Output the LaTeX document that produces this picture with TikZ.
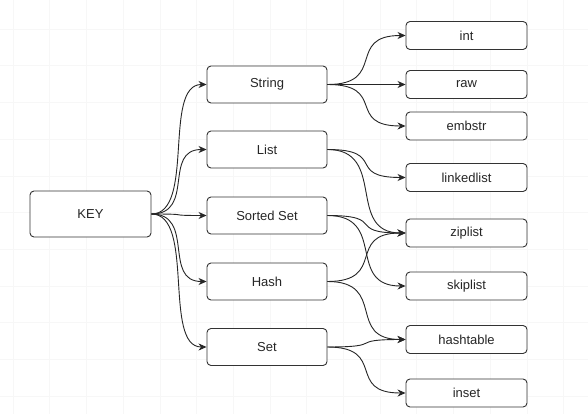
\documentclass[tikz,border=0pt]{standalone}
\usepackage{fontspec}
\setmainfont{Liberation Sans}
\usetikzlibrary{arrows.meta}
\begin{document}
\begin{tikzpicture}[x=1pt,y=-1pt,
  box/.style={draw=black!80, line width=0.9pt, rounded corners=4pt, fill=white,
    inner sep=0pt, text=black!85, font=\fontsize{13}{15}\selectfont},
  keybox/.style={box, minimum width=121pt, minimum height=46pt},
  midbox/.style={box, minimum width=120pt, minimum height=37pt},
  leafbox/.style={box, minimum width=121pt, minimum height=28pt},
  gridline/.style={draw=black!3, line width=0.6pt},
  link/.style={draw=black!85, line width=0.9pt,
    -{Stealth[length=8pt,width=7pt,inset=2.5pt]}},
  linkA/.style={link, out=0, in=180, out distance=44pt, in distance=44pt},
  linkB/.style={link, out=0, in=180, out distance=60pt, in distance=60pt}]
\useasboundingbox (0,0) rectangle (588,414);
\fill[white] (0,0) rectangle (588,414);
% faint background grid
\foreach \gx in {13,49.7,86.4,123.1,159.8,196.5,233.2,269.9,306.6,343.3,380,416.7,453.4,490.1,526.8,563.5}
  \path[gridline] (\gx,0) -- (\gx,414);
\foreach \gy in {29,65.7,102.4,139.1,175.8,212.5,249.2,285.9,322.6,359.3,396}
  \path[gridline] (0,\gy) -- (588,\gy);

\node[keybox] (key) at (90.5,214) {KEY};

\node[midbox] (string) at (267,84.5) {String};
\node[midbox] (list)   at (267,149.5) {List};
\node[midbox] (zset)   at (267,215.5) {Sorted Set};
\node[midbox] (hash)   at (267,281.5) {Hash};
\node[midbox] (set)    at (267,347) {Set};

\node[leafbox] (int)        at (466.5,35.5) {int};
\node[leafbox] (raw)        at (466.5,84.5) {raw};
\node[leafbox] (embstr)     at (466.5,126) {embstr};
\node[leafbox] (linkedlist) at (466.5,177.5) {linkedlist};
\node[leafbox] (ziplist)    at (466.5,233) {ziplist};
\node[leafbox] (skiplist)   at (466.5,286) {skiplist};
\node[leafbox] (hashtable)  at (466.5,339.5) {hashtable};
\node[leafbox] (inset)      at (466.5,393) {inset};

\foreach \m in {string,list,zset,hash,set}
  \draw[linkA] (key.east) to (\m.west);

\draw[linkB] (string.east) to (int.west);
\draw[linkB] (string.east) to (raw.west);
\draw[linkB] (string.east) to (embstr.west);
\draw[linkB] (list.east) to (linkedlist.west);
\draw[linkB] (list.east) to (ziplist.west);
\draw[linkB] (zset.east) to (ziplist.west);
\draw[linkB] (zset.east) to (skiplist.west);
\draw[linkB] (hash.east) to (ziplist.west);
\draw[linkB] (hash.east) to (hashtable.west);
\draw[linkB] (set.east) to (hashtable.west);
\draw[linkB] (set.east) to (inset.west);
\end{tikzpicture}
\end{document}
